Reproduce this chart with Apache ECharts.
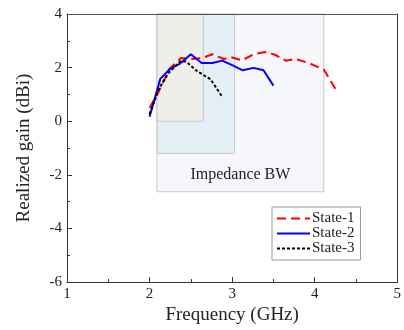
<!DOCTYPE html>
<html>
<head>
<meta charset="utf-8">
<script src="https://cdn.jsdelivr.net/npm/echarts@6/dist/echarts.min.js"></script>
<style>html,body{margin:0;padding:0;background:#fff}#c{width:404px;height:330px}</style>
</head>
<body>
<div id="c"></div>
<script>
// 三种状态的增益曲线
var freq1 = [2.0, 2.11, 2.24, 2.38, 2.5, 2.63, 2.76, 2.9, 3.0, 3.12, 3.26, 3.4, 3.52, 3.65, 3.77, 3.93, 4.11, 4.25];
var gain1 = [0.5, 1.1, 1.95, 2.36, 2.32, 2.35, 2.5, 2.32, 2.38, 2.27, 2.5, 2.58, 2.48, 2.26, 2.32, 2.17, 1.93, 1.21];
var freq2 = [2.0, 2.13, 2.25, 2.37, 2.5, 2.63, 2.76, 2.88, 3.0, 3.13, 3.26, 3.38, 3.5];
var gain2 = [0.17, 1.58, 1.96, 2.15, 2.5, 2.17, 2.17, 2.26, 2.09, 1.9, 1.99, 1.9, 1.33];
var freq3 = [2.0, 2.11, 2.23, 2.37, 2.44, 2.58, 2.74, 2.88];
var gain3 = [0.26, 1.19, 1.8, 2.23, 2.23, 1.86, 1.56, 0.91];
// 阻抗带宽框 [起始, 结束, 下沿]
var bw1 = [2.09, 2.65, 0];
var bw2 = [2.09, 3.03, -1.2];
var bw3 = [2.09, 4.11, -2.63];
var names = ['State-1', 'State-2', 'State-3'];

function pairs(xs, ys){
	var out = [];
	for (var i = 0; i < xs.length; i++) out.push([xs[i], ys[i]]);
	return out;
}
function box(b, color, border, label){
	var start = {xAxis: b[0], yAxis: 4, itemStyle: {color: color, borderColor: border, borderWidth: 1}};
	if (label) start.label = {show: true, position: 'insideBottom', distance: 9, formatter: label, fontFamily: font, fontSize: 16, color: '#222'};
	return [start, {xAxis: b[1], yAxis: b[2]}];
}

var font = 'Liberation Serif';
var chart = echarts.init(document.getElementById('c'));
chart.setOption({
	animation: false,
	grid: {left: 67, right: 1, top: 14, bottom: 46},
	legend: {
		left: 272, top: 207, orient: 'vertical',
		itemWidth: 33, itemHeight: 12, itemGap: 0,
		padding: [4, 6, 4, 4],
		borderColor: '#999', borderWidth: 1,
		itemStyle: {opacity: 0},
		textStyle: {fontFamily: font, fontSize: 15, color: '#222', padding: [0, 0, 0, -3]},
		data: names
	},
	xAxis: [{
		type: 'value', min: 1, max: 5, interval: 1,
		name: 'Frequency (GHz)', nameLocation: 'middle', nameGap: 21,
		nameTextStyle: {fontFamily: font, fontSize: 19, color: '#222'},
		axisLine: {onZero: false, lineStyle: {color: '#333'}},
		axisTick: {inside: true, length: 5, lineStyle: {color: '#333'}},
		minorTick: {show: true, splitNumber: 2, length: 3, lineStyle: {color: '#333'}},
		axisLabel: {fontFamily: font, fontSize: 15, color: '#222', margin: 4},
		splitLine: {show: false}
	}, {
		type: 'value', min: 1, max: 5, position: 'top', z: 10,
		axisLine: {onZero: false, lineStyle: {color: '#555'}}, axisTick: {show: false},
		axisLabel: {show: false}, splitLine: {show: false}
	}],
	yAxis: [{
		type: 'value', min: -6, max: 4, interval: 2,
		name: 'Realized gain (dBi)', nameLocation: 'middle', nameGap: 33,
		nameTextStyle: {fontFamily: font, fontSize: 19, color: '#222'},
		axisLine: {onZero: false, lineStyle: {color: '#333'}},
		axisTick: {inside: true, length: 5, lineStyle: {color: '#333'}},
		minorTick: {show: true, splitNumber: 2, length: 3, lineStyle: {color: '#333'}},
		axisLabel: {fontFamily: font, fontSize: 15, color: '#222', margin: 5},
		splitLine: {show: false}
	}, {
		type: 'value', min: -6, max: 4, position: 'right', z: 10,
		axisLine: {onZero: false, lineStyle: {color: '#333'}}, axisTick: {show: false},
		axisLabel: {show: false}, splitLine: {show: false}
	}],
	series: [
		{
			name: 'bw', type: 'line', data: [], silent: true,
			markArea: {
				silent: true,
				label: {show: false},
				data: [box(bw3, '#f6f7fa', '#c8c8cc', 'Impedance BW'), box(bw2, '#e3eff4', '#c2cacd'), box(bw1, '#eeeeea', '#c8c8c8')]
			}
		},
		{name: names[0], type: 'line', data: pairs(freq1, gain1), symbol: 'none', lineStyle: {color: '#ff0000', width: 2, type: [9, 5]}, itemStyle: {color: '#ff0000'}},
		{name: names[1], type: 'line', data: pairs(freq2, gain2), symbol: 'none', lineStyle: {color: '#0000ff', width: 2}, itemStyle: {color: '#0000ff'}},
		{name: names[2], type: 'line', data: pairs(freq3, gain3), symbol: 'none', lineStyle: {color: '#000', width: 2, type: [3, 2]}, itemStyle: {color: '#000'}}
	]
});
</script>
</body>
</html>
